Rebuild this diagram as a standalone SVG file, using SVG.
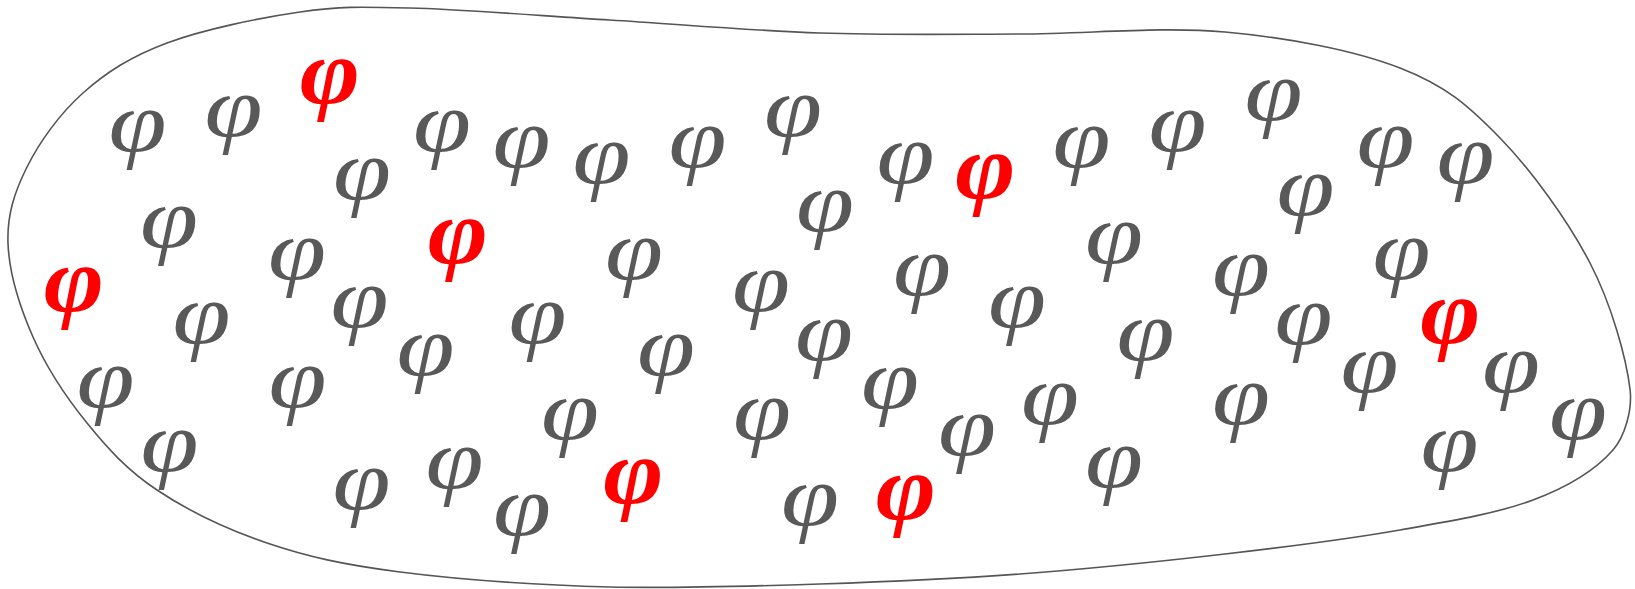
<svg xmlns="http://www.w3.org/2000/svg" width="1635" height="589" viewBox="0 0 1635 589">
<style>
.blob{fill:none;stroke:#555;stroke-width:1.6}
text{font-family:"Liberation Serif",serif;font-style:italic;text-anchor:middle}
.g text{font-size:86px;fill:#595959;transform:scale(1.22,1)}
.r text{font-size:92px;fill:#ff0000;font-weight:bold;transform:scale(1.12,1)}
</style>
<rect width="1635" height="589" fill="#fff"/>
<g id="region">
<path class="blob" d="M8,243 C7,214.7 14.5,192 27,167 C39.5,142 59.7,113.7 83,93 C106.3,72.3 130.8,56.5 167,43 C203.2,29.5 259.5,17.8 300,12 C340.5,6.2 358.3,6.7 410,8 C461.7,9.3 541.7,15.8 610,20 C678.3,24.2 751.7,30.7 820,33 C888.3,35.3 952.5,34.2 1020,34 C1087.5,33.8 1161.7,26.3 1225,32 C1288.3,37.7 1354.2,50.3 1400,68 C1445.8,85.7 1468.3,105.5 1500,138 C1531.7,170.5 1568.3,221.2 1590,263 C1611.7,304.8 1626.2,357.8 1630,389 C1632.7,410.8 1624.3,437 1613,450 C1596.8,468.5 1568.5,486.7 1533,500 C1497.5,513.3 1451.3,521 1400,530 C1348.7,539 1288.3,546.7 1225,554 C1161.7,561.3 1087.5,569 1020,574 C952.5,579 888.3,581.8 820,584 C751.7,586.2 680,588.5 610,587 C540,585 457.2,579.3 400,572 C342.8,564.7 307.5,556.7 267,543 C226.5,529.3 187,510 157,490 C127,470 107.7,448.5 87,423 C66.3,397.5 46.2,367 33,337 C19.8,307 9,271.3 8,243 Z"/>
</g>
<g id="symbols">
<g id="g1" class="g" transform="translate(137.5,151)"><text>φ</text></g>
<g id="g2" class="g" transform="translate(233.5,136)"><text>φ</text></g>
<g id="g3" class="g" transform="translate(362,199)"><text>φ</text></g>
<g id="g4" class="g" transform="translate(169,247)"><text>φ</text></g>
<g id="g5" class="g" transform="translate(297,279)"><text>φ</text></g>
<g id="g6" class="g" transform="translate(442,151)"><text>φ</text></g>
<g id="g7" class="g" transform="translate(521.5,167)"><text>φ</text></g>
<g id="g8" class="g" transform="translate(601.5,183)"><text>φ</text></g>
<g id="g9" class="g" transform="translate(697.5,167)"><text>φ</text></g>
<g id="g10" class="g" transform="translate(793,136)"><text>φ</text></g>
<g id="g11" class="g" transform="translate(634,279)"><text>φ</text></g>
<g id="g12" class="g" transform="translate(761,311)"><text>φ</text></g>
<g id="g13" class="g" transform="translate(825,231)"><text>φ</text></g>
<g id="g14" class="g" transform="translate(905.5,183)"><text>φ</text></g>
<g id="g15" class="g" transform="translate(1081.5,167)"><text>φ</text></g>
<g id="g16" class="g" transform="translate(1177.5,151)"><text>φ</text></g>
<g id="g17" class="g" transform="translate(1114,263)"><text>φ</text></g>
<g id="g18" class="g" transform="translate(922,295)"><text>φ</text></g>
<g id="g19" class="g" transform="translate(1273.5,120)"><text>φ</text></g>
<g id="g20" class="g" transform="translate(1385.5,167)"><text>φ</text></g>
<g id="g21" class="g" transform="translate(1465.5,183)"><text>φ</text></g>
<g id="g22" class="g" transform="translate(1305.5,215)"><text>φ</text></g>
<g id="g23" class="g" transform="translate(1401.5,279)"><text>φ</text></g>
<g id="g24" class="g" transform="translate(1241,295)"><text>φ</text></g>
<g id="g25" class="g" transform="translate(201.5,343)"><text>φ</text></g>
<g id="g26" class="g" transform="translate(359.5,327)"><text>φ</text></g>
<g id="g27" class="g" transform="translate(105.5,407)"><text>φ</text></g>
<g id="g28" class="g" transform="translate(297.5,407)"><text>φ</text></g>
<g id="g29" class="g" transform="translate(169.5,471)"><text>φ</text></g>
<g id="g30" class="g" transform="translate(361.5,509)"><text>φ</text></g>
<g id="g31" class="g" transform="translate(425.5,375)"><text>φ</text></g>
<g id="g32" class="g" transform="translate(537.5,343)"><text>φ</text></g>
<g id="g33" class="g" transform="translate(666,375)"><text>φ</text></g>
<g id="g34" class="g" transform="translate(570,439)"><text>φ</text></g>
<g id="g35" class="g" transform="translate(762,439)"><text>φ</text></g>
<g id="g36" class="g" transform="translate(454.5,488)"><text>φ</text></g>
<g id="g37" class="g" transform="translate(522,535)"><text>φ</text></g>
<g id="g38" class="g" transform="translate(824,360)"><text>φ</text></g>
<g id="g39" class="g" transform="translate(810,525)"><text>φ</text></g>
<g id="g40" class="g" transform="translate(1017,327)"><text>φ</text></g>
<g id="g41" class="g" transform="translate(1145.5,360)"><text>φ</text></g>
<g id="g42" class="g" transform="translate(890,408)"><text>φ</text></g>
<g id="g43" class="g" transform="translate(1050,424)"><text>φ</text></g>
<g id="g44" class="g" transform="translate(967,455)"><text>φ</text></g>
<g id="g45" class="g" transform="translate(1114,487)"><text>φ</text></g>
<g id="g46" class="g" transform="translate(1241,424)"><text>φ</text></g>
<g id="g47" class="g" transform="translate(1303.5,344)"><text>φ</text></g>
<g id="g48" class="g" transform="translate(1369.5,392)"><text>φ</text></g>
<g id="g49" class="g" transform="translate(1511,392)"><text>φ</text></g>
<g id="g50" class="g" transform="translate(1578,439)"><text>φ</text></g>
<g id="g51" class="g" transform="translate(1449.5,471)"><text>φ</text></g>
<g id="r1" class="r" transform="translate(330,103)"><text>φ</text></g>
<g id="r2" class="r" transform="translate(74,311)"><text>φ</text></g>
<g id="r3" class="r" transform="translate(458,263)"><text>φ</text></g>
<g id="r4" class="r" transform="translate(985.5,198)"><text>φ</text></g>
<g id="r5" class="r" transform="translate(633.5,503)"><text>φ</text></g>
<g id="r6" class="r" transform="translate(906,519)"><text>φ</text></g>
<g id="r7" class="r" transform="translate(1450.5,343)"><text>φ</text></g>
</g>
</svg>
